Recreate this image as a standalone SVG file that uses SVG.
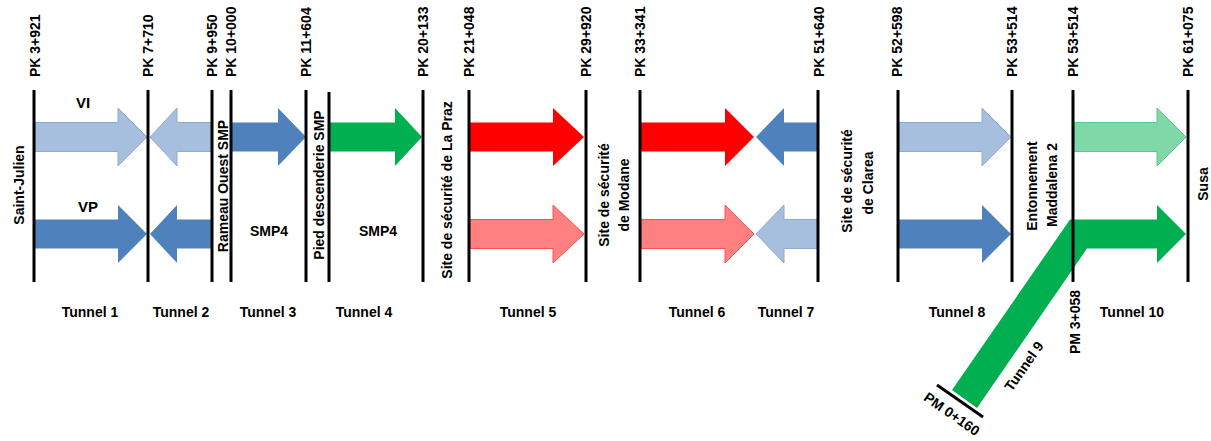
<svg xmlns="http://www.w3.org/2000/svg" width="1211" height="441" viewBox="0 0 1211 441">
<style>
text{font-family:"Liberation Sans",Arial,sans-serif;font-weight:bold;font-size:14px;fill:#000}
.mid{text-anchor:middle}
.ln{stroke:#000;stroke-width:3;fill:none}
.lb{fill:#A7BFDE;stroke:#8EAAD5;stroke-width:1}
.mb{fill:#4F81BD}
.gr{fill:#00B050}
.lg{fill:#80D8A8;stroke:#55C98A;stroke-width:1}
.rd{fill:#FF0000}
.lr{fill:#FF8080;stroke:#FF5050;stroke-width:1}
</style>
<g id="arrows">
<polygon class="lb" points="35,122.5 118,122.5 118,108 147,137 118,166 118,151.5 35,151.5"/>
<polygon class="lb" points="211,122.5 177,122.5 177,108 150,137 177,166 177,151.5 211,151.5"/>
<polygon class="mb" points="232,122.5 278,122.5 278,108 306,137 278,166 278,151.5 232,151.5"/>
<polygon class="gr" points="330,122.5 395,122.5 395,108 422,137 395,166 395,151.5 330,151.5"/>
<polygon class="rd" points="470,122.5 553,122.5 553,108 584,137 553,166 553,151.5 470,151.5"/>
<polygon class="rd" points="641,122.5 725,122.5 725,108 754,137 725,166 725,151.5 641,151.5"/>
<polygon class="mb" points="817,122.5 784,122.5 784,108 756,137 784,166 784,151.5 817,151.5"/>
<polygon class="lb" points="899,122.5 982,122.5 982,108 1011,137 982,166 982,151.5 899,151.5"/>
<polygon class="lg" points="1074,122.5 1157,122.5 1157,108 1186,137 1157,166 1157,151.5 1074,151.5"/>
<polygon class="mb" points="35,219.5 118,219.5 118,205 147,234 118,263 118,248.5 35,248.5"/>
<polygon class="mb" points="211,219.5 177,219.5 177,205 150,234 177,263 177,248.5 211,248.5"/>
<polygon class="lr" points="470,219.5 553,219.5 553,205 584,234 553,263 553,248.5 470,248.5"/>
<polygon class="lr" points="641,219.5 725,219.5 725,205 754,234 725,263 725,248.5 641,248.5"/>
<polygon class="lb" points="817,219.5 784,219.5 784,205 756,234 784,263 784,248.5 817,248.5"/>
<polygon class="mb" points="899,219.5 982,219.5 982,205 1011,234 982,263 982,248.5 899,248.5"/>
<polygon class="gr" points="952,390 1070,219.5 1157,219.5 1157,205 1186,234 1157,263 1157,248.5 1087,248.5 977,408"/>
</g>
<g id="connectors">
<line class="ln" x1="34" y1="90" x2="34" y2="282"/>
<line class="ln" x1="148" y1="90" x2="148" y2="282"/>
<line class="ln" x1="212" y1="90" x2="212" y2="282"/>
<line class="ln" x1="231" y1="90" x2="231" y2="282"/>
<line class="ln" x1="306" y1="90" x2="306" y2="282"/>
<line class="ln" x1="329" y1="92" x2="329" y2="282"/>
<line class="ln" x1="423" y1="90" x2="423" y2="282"/>
<line class="ln" x1="469" y1="90" x2="469" y2="282"/>
<line class="ln" x1="586" y1="90" x2="586" y2="282"/>
<line class="ln" x1="640" y1="90" x2="640" y2="282"/>
<line class="ln" x1="818" y1="90" x2="818" y2="282"/>
<line class="ln" x1="898" y1="90" x2="898" y2="282"/>
<line class="ln" x1="1012" y1="90" x2="1012" y2="282"/>
<line class="ln" x1="1073" y1="90" x2="1073" y2="282"/>
<line class="ln" x1="1188" y1="90" x2="1188" y2="282"/>
<line class="ln" x1="937" y1="385" x2="983" y2="417"/>
</g>
<g id="pk-labels">
<text transform="translate(40,77) rotate(-90)">PK 3+921</text>
<text transform="translate(153,77) rotate(-90)">PK 7+710</text>
<text transform="translate(217,77) rotate(-90)">PK 9+950</text>
<text transform="translate(236,77) rotate(-90)">PK 10+000</text>
<text transform="translate(311,77) rotate(-90)">PK 11+604</text>
<text transform="translate(428,77) rotate(-90)">PK 20+133</text>
<text transform="translate(474,77) rotate(-90)">PK 21+048</text>
<text transform="translate(591,77) rotate(-90)">PK 29+920</text>
<text transform="translate(645,77) rotate(-90)">PK 33+341</text>
<text transform="translate(824,77) rotate(-90)">PK 51+640</text>
<text transform="translate(902,77) rotate(-90)">PK 52+598</text>
<text transform="translate(1017,77) rotate(-90)">PK 53+514</text>
<text transform="translate(1078,77) rotate(-90)">PK 53+514</text>
<text transform="translate(1193,77) rotate(-90)">PK 61+075</text>
</g>
<g id="sites">
<text class="mid" transform="translate(24,185) rotate(-90)">Saint-Julien</text>
<text class="mid" transform="translate(228,186) rotate(-90)">Rameau Ouest SMP</text>
<text class="mid" transform="translate(324,185) rotate(-90)">Pied descenderie SMP</text>
<text class="mid" transform="translate(452,190) rotate(-90)">Site de sécurité de La Praz</text>
<text class="mid" transform="translate(609,195) rotate(-90)">Site de sécurité</text>
<text class="mid" transform="translate(629,195) rotate(-90)">de Modane</text>
<text class="mid" transform="translate(852,181) rotate(-90)">Site de sécurité</text>
<text class="mid" transform="translate(873,183) rotate(-90)">de Clarea</text>
<text class="mid" transform="translate(1037,186) rotate(-90)">Entonnement</text>
<text class="mid" transform="translate(1057,185) rotate(-90)">Maddalena 2</text>
<text class="mid" transform="translate(1208,184) rotate(-90)">Susa</text>
<text class="mid" transform="translate(1080,322) rotate(-90)">PM 3+058</text>
<text class="mid" transform="translate(949,418) rotate(35)">PM 0+160</text>
<text class="mid" transform="translate(1028,369) rotate(-55)">Tunnel 9</text>
</g>
<g id="labels">
<text class="mid" x="83" y="108" style="font-size:15px">VI</text>
<text class="mid" x="88" y="212" style="font-size:15px">VP</text>
<text class="mid" x="269" y="236">SMP4</text>
<text class="mid" x="378" y="236">SMP4</text>
</g>
<g id="tunnels">
<text class="mid" x="90" y="317">Tunnel 1</text>
<text class="mid" x="181" y="317">Tunnel 2</text>
<text class="mid" x="268" y="317">Tunnel 3</text>
<text class="mid" x="364" y="317">Tunnel 4</text>
<text class="mid" x="528" y="317">Tunnel 5</text>
<text class="mid" x="697" y="317">Tunnel 6</text>
<text class="mid" x="786" y="317">Tunnel 7</text>
<text class="mid" x="957" y="317">Tunnel 8</text>
<text class="mid" x="1132" y="317">Tunnel 10</text>
</g>
</svg>
